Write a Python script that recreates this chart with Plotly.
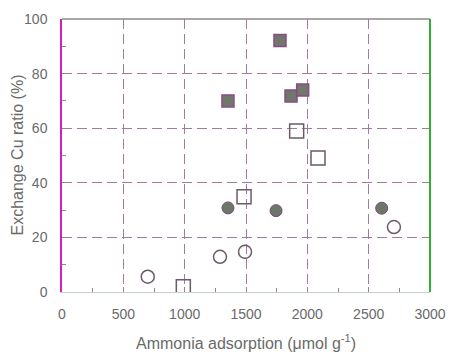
import plotly.graph_objects as go

# Data
fsq_x = [1353, 1777, 1867, 1962]
fsq_y = [70.0, 92.1, 71.8, 74.0]
osq_x = [1913, 2087, 1484, 989]
osq_y = [59.0, 49.1, 34.9, 1.9]
fci_x = [1353, 1745, 2606]
fci_y = [30.8, 29.8, 30.7]
oci_x = [699, 1288, 1492, 2706]
oci_y = [5.6, 12.9, 14.7, 23.8]

x_ticks = [0, 500, 1000, 1500, 2000, 2500, 3000]
y_ticks = [0, 20, 40, 60, 80, 100]
x_title = "Ammonia adsorption (μmol g<sup>-1</sup>)"
y_title = "Exchange Cu ratio (%)"

TXT = "#6a6a6a"
GRID = "#9c7e9c"
FONT = "Liberation Sans, Arial, sans-serif"

fig = go.Figure()
fig.add_trace(go.Scatter(x=fsq_x, y=fsq_y, mode="markers",
    marker=dict(symbol="square", size=12, color="#6f786b",
                line=dict(color="#8a4a8a", width=1.5))))
fig.add_trace(go.Scatter(x=osq_x, y=osq_y, mode="markers",
    marker=dict(symbol="square-open", size=14, color="#6a5a6a",
                line=dict(width=1.5))))
fig.add_trace(go.Scatter(x=fci_x, y=fci_y, mode="markers",
    marker=dict(symbol="circle", size=12, color="#6c776a",
                line=dict(color="#7a4a7a", width=1))))
fig.add_trace(go.Scatter(x=oci_x, y=oci_y, mode="markers",
    marker=dict(symbol="circle-open", size=13, color="#6a5a6a",
                line=dict(width=1.5))))

fig.update_layout(
    width=449, height=352,
    margin=dict(l=62, r=19, t=19, b=60),
    paper_bgcolor="white", plot_bgcolor="white",
    showlegend=False,
    font=dict(family=FONT, size=14, color=TXT),
    xaxis=dict(range=[0, 3000], tickvals=x_ticks, ticktext=[str(v) for v in x_ticks],
               automargin=False,
               showgrid=True, gridcolor=GRID, griddash="10px,5px", gridwidth=1,
               zeroline=False, showline=True, linecolor="#c4d4c4", linewidth=1,
               ticks="inside", ticklen=5, tickcolor=GRID,
               minor=dict(dtick=250, ticks="inside", ticklen=4, tickcolor=GRID, showgrid=False),
               tickfont=dict(size=14, color=TXT),
               ticklabelstandoff=9),
    yaxis=dict(range=[0, 100], tickvals=y_ticks, ticktext=[str(v) for v in y_ticks],
               automargin=False,
               showgrid=True, gridcolor=GRID, griddash="10px,5px", gridwidth=1,
               zeroline=False, showline=True, linecolor="#d020c0", linewidth=1.5,
               ticks="inside", ticklen=5, tickcolor=GRID,
               minor=dict(dtick=10, ticks="inside", ticklen=4, tickcolor=GRID, showgrid=False),
               tickfont=dict(size=14, color=TXT),
               ticklabelstandoff=10),
    annotations=[
        dict(text=x_title, xref="paper", yref="paper", x=0.5, y=0, yshift=-50,
             xanchor="center", yanchor="middle", showarrow=False,
             font=dict(size=16, color=TXT)),
        dict(text=y_title, xref="paper", yref="paper", x=0, y=0.5, xshift=-45,
             xanchor="center", yanchor="middle", textangle=-90, showarrow=False,
             font=dict(size=16, color=TXT)),
    ],
    shapes=[
        dict(type="line", xref="paper", yref="paper", x0=0, x1=1, y0=1, y1=1,
             line=dict(color="#8a8a8a", width=1.5)),
        dict(type="line", xref="paper", yref="paper", x0=1, x1=1, y0=0, y1=1,
             line=dict(color="#30b030", width=2)),
    ],
)

fig.write_html("out.html",
               config={"displayModeBar": False},
               post_script="document.body.style.margin='0px';document.body.style.overflow='hidden';")
